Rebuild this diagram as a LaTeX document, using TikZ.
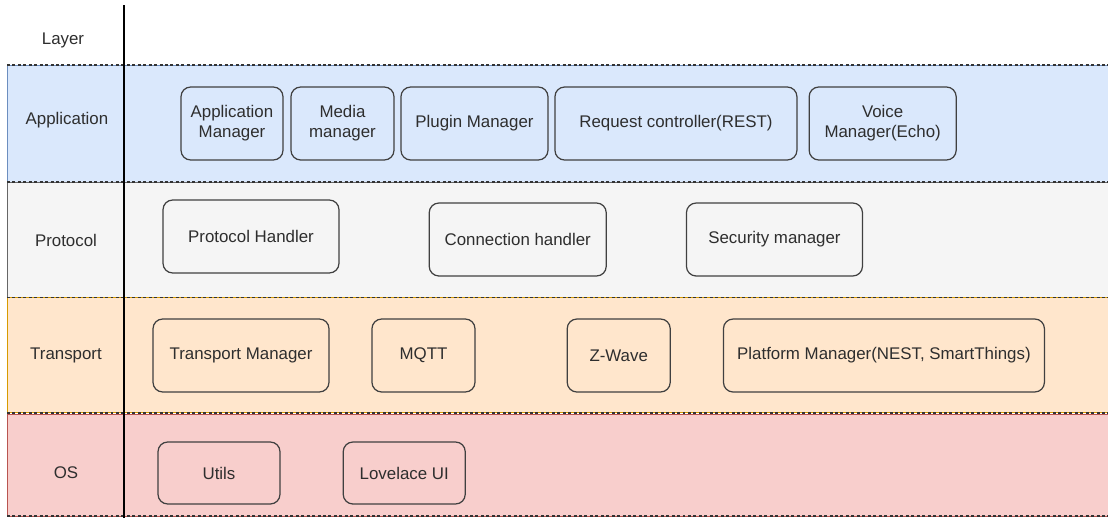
\documentclass[tikz,border=0pt]{standalone}
\usepackage{fontspec}
\setmainfont{Liberation Sans}
\usepackage{tikz}
\usetikzlibrary{positioning}
\usepackage{xcolor}
\definecolor{appblue}{RGB}{218,232,252}
\definecolor{appedge}{RGB}{108,142,191}
\definecolor{protogray}{RGB}{245,245,245}
\definecolor{protoedge}{RGB}{102,102,102}
\definecolor{transorange}{RGB}{255,230,204}
\definecolor{transedge}{RGB}{215,155,0}
\definecolor{osred}{RGB}{248,206,204}
\definecolor{osedge}{RGB}{184,84,80}

\begin{document}
\begin{tikzpicture}[
    node distance=0.15cm,
    layer/.style={font=\fontsize{9.6}{11.3}\selectfont, text=black!82},
    comp/.style={rectangle, draw=black!75, rounded corners=5.5pt, line width=0.7pt, minimum height=1.46cm, inner sep=2pt, align=center, font=\fontsize{9.6}{11.3}\selectfont, text=black!82},
    sep/.style={dashed, dash pattern=on 1.7pt off 1.4pt, line width=0.6pt, black!80}
]
    \useasboundingbox (0,0) rectangle (22.16,-10.36);

    % layer bands
    \filldraw[fill=appblue, draw=appedge] (0.14,-1.3) rectangle (22.4,-3.64);
    \filldraw[fill=protogray, draw=protoedge] (0.14,-3.64) rectangle (22.4,-5.95);
    \filldraw[fill=transorange, draw=transedge] (0.14,-5.95) rectangle (22.4,-8.24);
    \filldraw[fill=osred, draw=osedge] (0.14,-8.28) rectangle (22.4,-10.32);
    \foreach \y in {-1.3,-3.64,-5.95,-8.26,-10.32}
        \draw[sep] (0.14,\y) -- (22.16,\y);
    \draw[line width=0.9pt] (2.48,-0.1) -- (2.48,-10.36);

    \node[layer] (lyr) at (1.26,-0.8) {Layer};
    \node[layer] (lapp) at (1.34,-2.4) {Application};
    \node[layer] (lproto) at (1.32,-4.8) {Protocol};
    \node[layer] (ltrans) at (1.32,-7.1) {Transport};
    \node[layer] (los) at (1.32,-9.46) {OS};

    % application
    \node[comp, minimum width=2.04cm] (appmgr) at (4.64,-2.47) {Application\\Manager};
    \node[comp, minimum width=2.06cm, right=0.135cm of appmgr] (media) {Media\\manager};
    \node[comp, minimum width=2.94cm, right=0.115cm of media] (plugin) {Plugin Manager};
    \node[comp, minimum width=4.84cm, right=0.115cm of plugin] (request) {Request controller(REST)};
    \node[comp, minimum width=2.94cm, right=0.22cm of request] (voice) {Voice\\Manager(Echo)};

    % protocol
    \node[comp, minimum width=3.52cm] (prothdl) at (5.02,-4.73) {Protocol Handler};
    \node[comp, minimum width=3.54cm, right=1.78cm of prothdl, yshift=-0.06cm] (conn) {Connection handler};
    \node[comp, minimum width=3.52cm, right=1.58cm of conn] (secmgr) {Security manager};

    % transport
    \node[comp, minimum width=3.52cm] (transmgr) at (4.82,-7.11) {Transport Manager};
    \node[comp, minimum width=2.06cm, right=0.835cm of transmgr] (mqtt) {MQTT};
    \node[comp, minimum width=2.06cm, right=1.82cm of mqtt] (zwave) {Z-Wave};
    \node[comp, minimum width=6.42cm, right=1.04cm of zwave] (platform) {Platform Manager(NEST, SmartThings)};

    % os
    \node[comp, minimum width=2.44cm, minimum height=1.24cm] (utils) at (4.38,-9.46) {Utils};
    \node[comp, minimum width=2.44cm, minimum height=1.24cm, right=1.24cm of utils] (lovelace) {Lovelace UI};
\end{tikzpicture}
\end{document}
